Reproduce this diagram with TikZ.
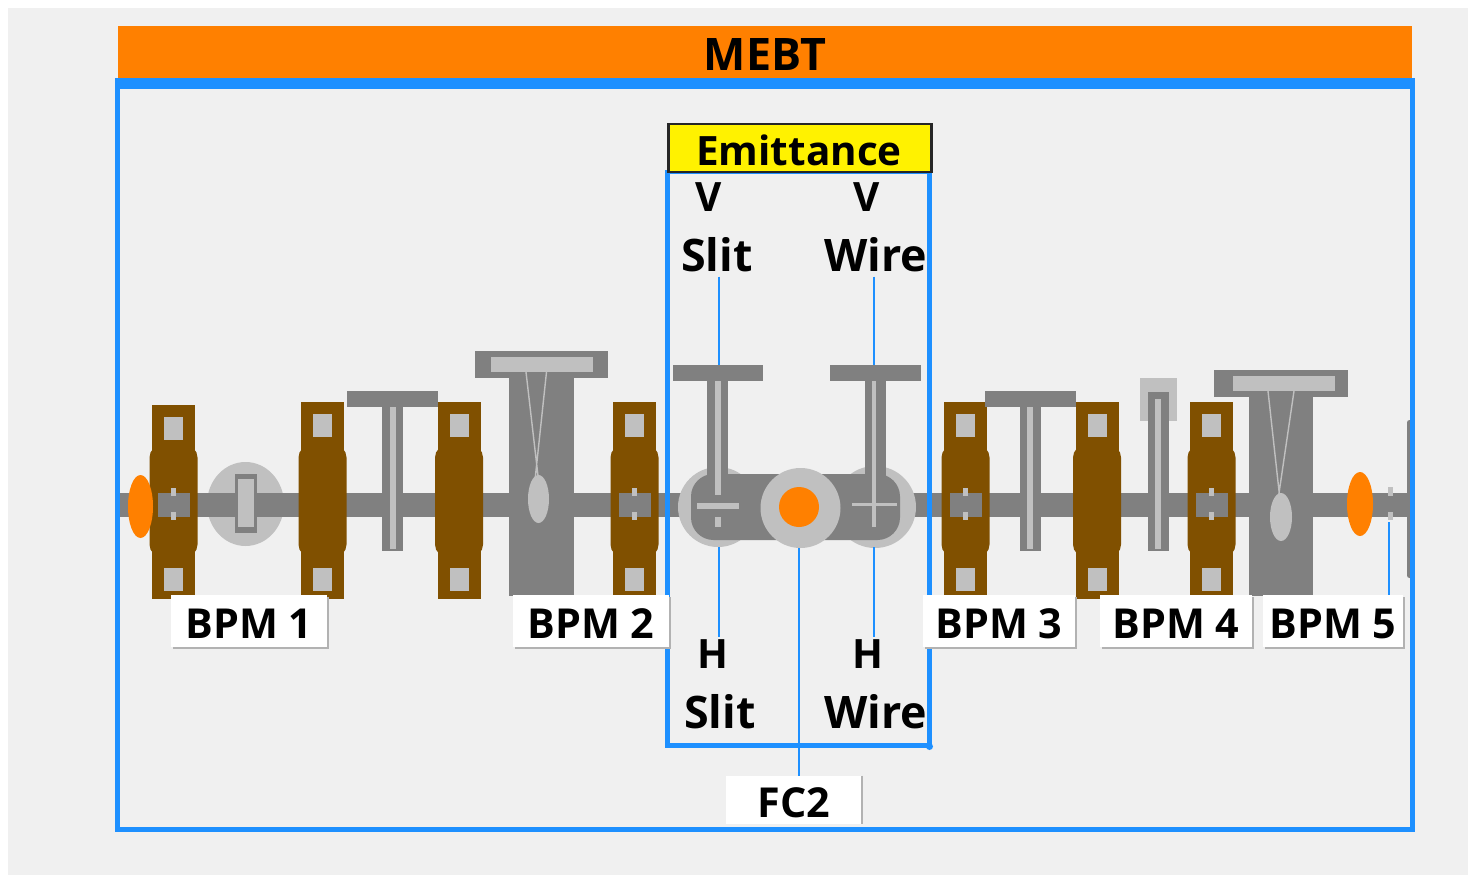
\documentclass[tikz,border=0pt]{standalone}
\usepackage{fontspec}
\setmainfont{Open Sans}
\usetikzlibrary{shadows}
\definecolor{beamblue}{HTML}{1E90FF}
\definecolor{barorange}{HTML}{FF8000}
\definecolor{magbrown}{HTML}{805000}
\definecolor{devgray}{HTML}{808080}
\definecolor{devlight}{HTML}{C0C0C0}
\definecolor{panel}{HTML}{F0F0F0}
\tikzstyle{dev}=[fill=devgray]
\tikzstyle{devl}=[fill=devlight]
\tikzstyle{mag}=[fill=magbrown]
\tikzstyle{txt}=[font=\fontsize{23}{23}\selectfont\bfseries,inner sep=0.05cm,text=black]
\tikzstyle{big}=[txt,font=\fontsize{25.5}{25.5}\selectfont\bfseries,inner sep=0.08cm]
\tikzstyle{plate}=[font=\fontsize{23.5}{23.5}\selectfont\bfseries,inner sep=0.05cm,text=black,
                 fill=white,minimum height=1.04cm,text height=0.68cm,text depth=0cm]
\tikzstyle{tag}=[plate,
                 drop shadow={shadow xshift=0.04cm,shadow yshift=-0.04cm,fill=black!30,opacity=1}]
\tikzstyle{leader}=[draw=beamblue,line width=0.05cm]
\tikzstyle{frame}=[draw=beamblue,line width=0.1cm]

% quadrupole, centred on x, top edge given
\newcommand{\magnet}[2]{
  \begin{scope}[shift={(#1,0)}]
    \fill[mag] (-21.5,#2) rectangle (21.5,599);
    \fill[mag,rounded corners=0.25cm] (-24,445) rectangle (24,557);
    \fill[devl] (-9.5,{#2+12}) rectangle (9.5,{#2+35});
    \fill[devl] (-9.5,568) rectangle (9.5,591);
  \end{scope}}
% pick-up on top of a quadrupole
\newcommand{\bpmcore}[1]{
  \begin{scope}[shift={(#1,0)}]
    \fill[dev] (-16,493) rectangle (16,517);
    \fill[devl] (-2.5,488) rectangle (2.5,496);
    \fill[devl] (-2.5,512) rectangle (2.5,520);
  \end{scope}}
% thin actuator, bar on top
\newcommand{\actuator}[1]{
  \begin{scope}[shift={(#1,0)}]
    \fill[dev] (-45.5,391) rectangle (45.5,407);
    \fill[dev] (-10.5,407) rectangle (10.5,551);
    \fill[devl] (-3,407) rectangle (3,549);
  \end{scope}}

\begin{document}
\begin{tikzpicture}[x=0.02cm,y=-0.02cm]
\useasboundingbox (0,0) rectangle (1468,875);
\fill[white] (0,0) rectangle (1468,875);
\fill[panel] (8,8) rectangle (1468,875);

% header
\node[fill=barorange,minimum width=25.88cm,minimum height=1.04cm,inner sep=0] (head) at (765,52) {};
\node[big] (mebt) at (765,55) {MEBT};

% beam line
\fill[devl] (245.5,504) ellipse [x radius=38.5,y radius=42];
\fill[dev] (119,493) rectangle (1408,517);
\fill[dev,rounded corners=0.05cm] (1407,420) rectangle (1413,578);
\fill[dev] (235,474) rectangle (256.5,533);
\fill[devl] (238,479) rectangle (253.5,527);

% quadrupoles
\foreach \x in {322.5,459,634.5,965.5,1097,1211.5} {\magnet{\x}{402}}
\magnet{173.5}{405}
\foreach \x in {173.5,634.5,965.5,1211.5} {\bpmcore{\x}}
\fill[barorange] (140.5,506.5) ellipse [x radius=12.5,y radius=31.5];

% actuators
\actuator{392.5}
\actuator{1030}
\fill[devl] (1140,378) rectangle (1177,421);
\fill[dev] (1148,392) rectangle (1169,551);
\fill[devl] (1155,399) rectangle (1161,549);

% wire scanners
\fill[dev] (475,351) rectangle (608,378);
\fill[devl] (491,357) rectangle (593,372);
\fill[dev] (509,378) rectangle (573.5,596);
\draw[devlight,thick] (526,372) -- (538.5,480) (546.5,372) -- (535,480);
\fill[devl] (538.5,499) ellipse [x radius=10.5,y radius=24];
\fill[dev] (1214,370) rectangle (1348,397);
\fill[devl] (1233,376) rectangle (1335,391);
\fill[dev] (1249,397) rectangle (1313,596);
\draw[devlight,thick] (1268,391) -- (1280,500) (1294,391) -- (1278,500);
\fill[devl] (1281,517) ellipse [x radius=11,y radius=24];

% end of line
\fill[barorange] (1360,504) ellipse [x radius=13,y radius=32];
\fill[devl] (1388,487) rectangle (1393,496);
\fill[devl] (1388,512) rectangle (1393,520);

% emittance station
\fill[devl] (718,507) circle [radius=40];
\fill[devl] (875,507) circle [radius=41];
\fill[dev,rounded corners=0.45cm] (691,474) rectangle (900,540);
\fill[dev] (672.5,365) rectangle (763,381);
\fill[dev] (707,381) rectangle (728,480);
\fill[devl] (715,381) rectangle (720.5,495);
\fill[devl] (697,503) rectangle (739,509);
\fill[devl] (715,517) rectangle (720.5,527);
\fill[dev] (830,365) rectangle (921,381);
\fill[dev] (865,381) rectangle (886,480);
\fill[devl] (872,381) rectangle (875.5,527);
\fill[devl] (852,503) rectangle (897,506);
\fill[devl] (800.5,508) circle [radius=40];
\fill[barorange] (799,507) circle [radius=20];

% boxes
\draw[frame] (117.5,84) rectangle (1412,829.5);
\fill[beamblue] (115,78) rectangle (1414.5,89);
\draw[frame] (667.5,172) rectangle (929.5,745.5);
\fill[beamblue] (929.5,746.5) circle [radius=3.5];
\node[draw=black!85,line width=0.05cm,fill=yellow,minimum width=5.27cm,minimum height=0.97cm,inner sep=0] (emit) at (800,148) {};
\node[txt] (emittxt) at (799,150) {Emittance};

% labels
\node[txt] (vs) at (709,197) {V};
\node[big] (vslit) at (717,255) {Slit};
\node[txt] (vw) at (867,197) {V};
\node[big] (vwire) at (876,255) {Wire};
\node[txt] (hs) at (713,654) {H};
\node[big] (hslit) at (720,712) {Slit};
\node[txt] (hw) at (868,654) {H};
\node[big] (hwire) at (876,712) {Wire};
\node[tag,minimum width=3.12cm] (bpm1) at (249,621) {BPM 1};
\node[tag,minimum width=3.12cm] (bpm2) at (591,621) {BPM 2};
\node[tag,minimum width=3.04cm] (bpm3) at (999,621) {BPM 3};
\node[tag,minimum width=3.04cm] (bpm4) at (1176,621) {BPM 4};
\node[tag,minimum width=2.8cm] (bpm5) at (1333,621) {BPM 5};
\node[plate,minimum width=2.72cm,minimum height=0.96cm] (fc2) at (794,800) {FC2};
\draw[black!30,line width=0.04cm] (fc2.north east) -- (fc2.south east);

% leaders
\coordinate (vslitend) at (719,365);
\coordinate (vwireend) at (874,365);
\coordinate (hslitend) at (719,547);
\coordinate (hwireend) at (874,547);
\coordinate (fcend) at (799,548);
\coordinate (bpmend) at (1389,522);
\path[leader] (vslit.south -| vslitend) edge (vslitend)
              (vwire.south -| vwireend) edge (vwireend)
              (hs.north -| hslitend) edge (hslitend)
              (hw.north -| hwireend) edge (hwireend)
              (fc2.north -| fcend) edge (fcend)
              (bpm5.north -| bpmend) edge (bpmend);
\end{tikzpicture}
\end{document}
